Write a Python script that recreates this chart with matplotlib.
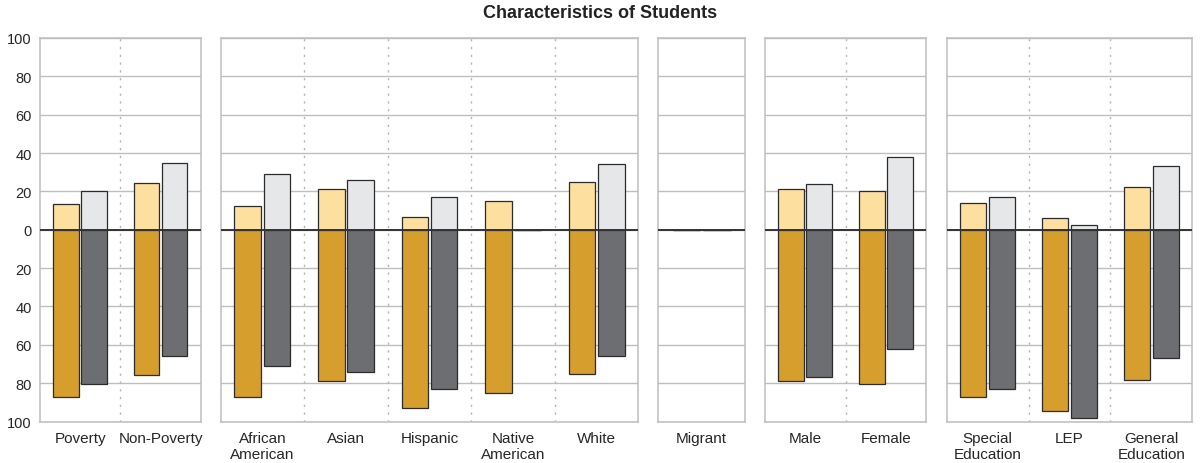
import matplotlib
matplotlib.use('Agg')
import matplotlib.pyplot as plt
import numpy as np

plt.rcParams['font.family'] = ['Liberation Sans', 'DejaVu Sans']

# categories per panel
group_sizes = [2, 5, 1, 2, 3]
categories = ['Poverty', 'Non-Poverty',
              'African\nAmerican', 'Asian', 'Hispanic', 'Native\nAmerican', 'White',
              'Migrant',
              'Male', 'Female',
              'Special\nEducation', 'LEP', 'General\nEducation']

# values (upper bars positive, lower bars shown below zero)
gold_top = [13.5, 24.4, 12.6, 21.5, 6.6, 15.2, 25.1, 0, 21.3, 20.1, 13.8, 6.3, 22.2]
gray_top = [20.2, 34.8, 29.3, 25.9, 17.0, 0, 34.4, 0, 23.6, 37.9, 17.1, 2.5, 33.2]
gold_bot = [87.2, 76.0, 87.2, 79.1, 93.2, 85.1, 75.2, 0, 79.1, 80.2, 87.0, 94.3, 78.1]
gray_bot = [80.2, 66.1, 71.1, 74.3, 83.3, 0, 66.1, 0, 77.0, 62.1, 83.1, 98.3, 67.0]

yticks = [-100, -80, -60, -40, -20, 0, 20, 40, 60, 80, 100]

# colours
c_gold_l = '#FDDF9F'
c_gold_d = '#D69E2C'
c_gray_l = '#E6E7E8'
c_gray_d = '#6D6E71'
c_grid = '#BEBEBE'
c_edge = '#2B2B2B'

W, H = 1200, 464
fig = plt.figure(figsize=(W / 100, H / 100), dpi=100)

# panel extents in pixels
panel_px = [(40, 200.7), (220.7, 638.3), (658.3, 745), (765, 926), (946.7, 1192.3)]
top_px, bot_px = 39, 422.5

bw = 0.32
off = 0.175

start = 0
for p, n in enumerate(group_sizes):
    x0, x1 = panel_px[p]
    ax = fig.add_axes([x0 / W, 1 - bot_px / H, (x1 - x0) / W, (bot_px - top_px) / H])
    idx = slice(start, start + n)
    x = np.arange(n)
    gt = np.array(gold_top[idx]); yt = np.array(gray_top[idx])
    gb = np.array(gold_bot[idx]); yb = np.array(gray_bot[idx])

    ax.bar(x - off, gt, bw, color=c_gold_l, edgecolor=c_edge, linewidth=0.9, zorder=3)
    ax.bar(x + off, yt, bw, color=c_gray_l, edgecolor=c_edge, linewidth=0.9, zorder=3)
    ax.bar(x - off, -gb, bw, color=c_gold_d, edgecolor=c_edge, linewidth=0.9, zorder=3)
    ax.bar(x + off, -yb, bw, color=c_gray_d, edgecolor=c_edge, linewidth=0.9, zorder=3)

    ax.set_xlim(-0.5, n - 0.5)
    ax.set_ylim(-100, 100)
    ax.set_yticks(yticks)
    for yv in yticks:
        ax.axhline(yv, color=c_grid, lw=1.0, zorder=1)
    ax.axhline(0, color='#333333', lw=1.4, zorder=4)
    for k in range(n - 1):
        ax.axvline(k + 0.5, color='#B5B5B5', lw=1.0, ls=(0, (1.6, 4.0)), zorder=1)

    ax.set_xticks(x)
    ax.set_xticklabels(categories[idx], fontsize=11, color='#262626', va='top', linespacing=1.15)
    ax.tick_params(axis='x', length=0, pad=7)
    if p == 0:
        ax.set_yticklabels([str(abs(v)) for v in yticks], fontsize=10.5, color='#262626')
        ax.tick_params(axis='y', length=0, pad=6)
    else:
        ax.tick_params(axis='y', length=0, labelleft=False)
    for s in ax.spines.values():
        s.set_color(c_grid)
        s.set_linewidth(1.1)
    start += n

fig.text(0.5, 1 - 14 / H, 'Characteristics of Students', ha='center', va='center',
         fontsize=13, fontweight='bold', color='#222222')

fig.savefig('out.png', dpi=100)
